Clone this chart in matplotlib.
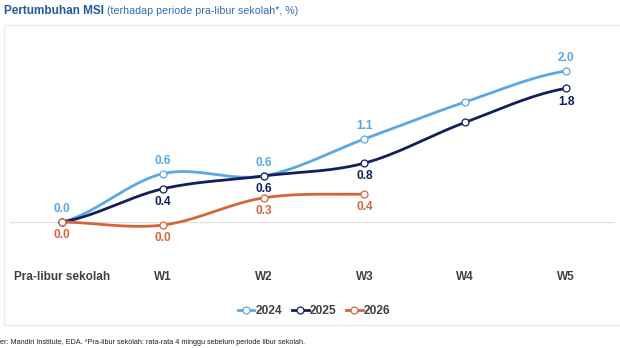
import numpy as np
import matplotlib
matplotlib.use('Agg')
import matplotlib.pyplot as plt
from matplotlib.lines import Line2D
from matplotlib.patches import Rectangle

# Data (MSI growth vs pre-holiday period, %)
periods = ['Pra-libur sekolah', 'W1', 'W2', 'W3', 'W4', 'W5']
growth_2024 = [0.0, 0.64, 0.61, 1.10, 1.59, 2.00]
growth_2025 = [0.0, 0.44, 0.61, 0.78, 1.32, 1.77]
growth_2026 = [0.0, -0.04, 0.32, 0.37]

# which points get a value label
labels_2024 = [0, 1, 2, 3, 5]
labels_2025 = [1, 2, 3, 5]
labels_2026 = [0, 1, 2, 3]

c2024 = '#5aa8e4'
c2025 = '#131f5c'
c2026 = '#d7653a'
text_grey = '#404040'

plt.rcParams['font.family'] = ['Liberation Sans', 'DejaVu Sans']


# Smooth curve through the points (cubic Hermite, Catmull-Rom tangents)
def smooth(xs, ys, n=30):
    xs = np.asarray(xs, float)
    ys = np.asarray(ys, float)
    m = np.zeros_like(ys)
    m[1:-1] = (ys[2:] - ys[:-2]) / 2
    m[0] = (ys[1] - ys[0]) / 2
    m[-1] = (ys[-1] - ys[-2]) / 2
    out_x, out_y = [], []
    for i in range(len(xs) - 1):
        t = np.linspace(0, 1, n)
        h00 = 2 * t**3 - 3 * t**2 + 1
        h10 = t**3 - 2 * t**2 + t
        h01 = -2 * t**3 + 3 * t**2
        h11 = t**3 - t**2
        out_x.extend(xs[i] + t * (xs[i + 1] - xs[i]))
        out_y.extend(h00 * ys[i] + h10 * m[i] + h01 * ys[i + 1] + h11 * m[i + 1])
    return out_x, out_y


fig = plt.figure(figsize=(6.2, 3.48), dpi=100)

# light frame round the chart
fig.patches.append(Rectangle((4 / 620, 1 - 324.5 / 348), 630 / 620, 299.5 / 348,
                             transform=fig.transFigure, fill=False,
                             edgecolor='#ececec', linewidth=1.0))

ax = fig.add_axes([10 / 620, 1 - 290 / 348, 605 / 620, 260 / 348])
ax.set_xlim(-0.516, 5.486)
ax.set_ylim(-0.90, 2.543)
for s in ax.spines.values():
    s.set_visible(False)
ax.set_yticks([])
ax.set_xticks(range(len(periods)))
ax.set_xticklabels(periods, fontsize=8.5, fontweight='bold', color=text_grey)
ax.tick_params(axis='x', length=0, pad=-13.5)

ax.axhline(0, color='#dedede', linewidth=0.8, zorder=1)

series = [
    (growth_2024, c2024, labels_2024, 'above'),
    (growth_2025, c2025, labels_2025, 'below'),
    (growth_2026, c2026, labels_2026, 'below'),
]

for vals, col, lab_idx, where in series:
    xs = list(range(len(vals)))
    sx, sy = smooth(xs, vals)
    ax.plot(sx, sy, color=col, linewidth=2.0, solid_capstyle='round', zorder=3)
    ax.plot(xs, vals, linestyle='none', marker='o', markersize=5,
            markerfacecolor='white', markeredgecolor=col, markeredgewidth=0.9, zorder=4)
    for i in lab_idx:
        txt = f'{vals[i]:.1f}'.replace('-0.0', '0.0')
        dy = 9.5 if where == 'above' else -9.5
        ax.annotate(txt, (xs[i], vals[i]), xytext=(0, dy), textcoords='offset points',
                    ha='center', va='center', fontsize=8.6, fontweight='bold', color=col)

# Legend
handles = [Line2D([0], [0], color=c, linewidth=2.0, marker='o', markersize=5,
                  markerfacecolor='white', markeredgecolor=c, markeredgewidth=0.9)
           for c in (c2024, c2025, c2026)]
leg = fig.legend(handles, ['2024', '2025', '2026'], loc='center',
                 bbox_to_anchor=(314 / 620, 1 - 311 / 348), ncol=3, frameon=False,
                 handlelength=1.4, handletextpad=0.1, columnspacing=0.8,
                 prop={'size': 8.6, 'weight': 'bold'})
for t in leg.get_texts():
    t.set_color(text_grey)

# Title
fig.text(4 / 620, 1 - 11 / 348, 'Pertumbuhan MSI', fontsize=8.5, fontweight='bold',
         color='#1f5b96', va='center', ha='left')
fig.text(107 / 620, 1 - 11 / 348, '(terhadap periode pra-libur sekolah*, %)', fontsize=7.65,
         color='#2d6fae', va='center', ha='left')

# Footnote (cut off on the left as in the source)
fig.text(0, 1 - 343 / 348,
         'er: Mandiri Institute, EDA. *Pra-libur sekolah: rata-rata 4 minggu sebelum periode libur sekolah.',
         fontsize=5.25, color='#222222', va='center', ha='left')

fig.savefig('out.png', dpi=100)
